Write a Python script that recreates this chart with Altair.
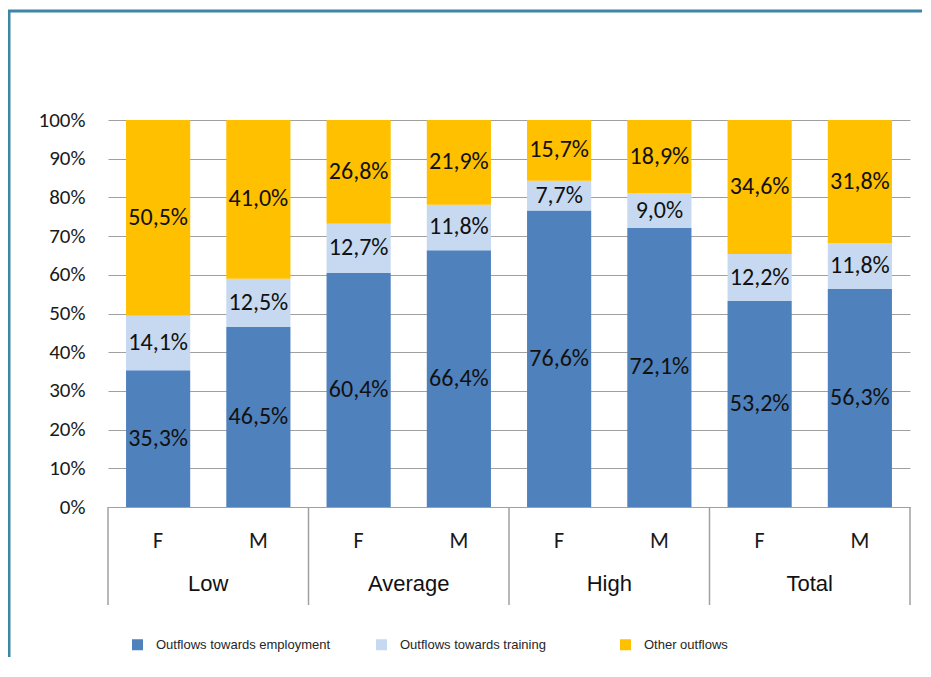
import altair as alt
import pandas as pd

# ---- data ----
groups = ["Low", "Average", "High", "Total"]
sexes = ["F", "M"]
series = ["Outflows towards employment", "Outflows towards training", "Other outflows"]
employment = [35.3, 46.5, 60.4, 66.4, 76.6, 72.1, 53.2, 56.3]
training = [14.1, 12.5, 12.7, 11.8, 7.7, 9.0, 12.2, 11.8]
other = [50.5, 41.0, 26.8, 21.9, 15.7, 18.9, 34.6, 31.8]
y_ticks = [0.0, 0.1, 0.2, 0.3, 0.4, 0.5, 0.6, 0.7, 0.8, 0.9, 1.0]
colors = ["#4F81BD", "#C6D9F1", "#FFC000"]

# ---- tables built from the lists ----
keys = [f"{g}|{s}" for g in groups for s in sexes]
rows = []
for i, k in enumerate(keys):
    vals = [employment[i], training[i], other[i]]
    total = sum(vals)
    cum = 0.0
    for j, v in enumerate(vals):
        cum += v
        rows.append({
            "key": k,
            "series": series[j],
            "sidx": j,
            "value": v,
            "mid": (cum - v / 2) / total,
            "label": f"{v:.1f}".replace(".", ",") + "%",
        })
df = pd.DataFrame(rows)
grp_df = pd.DataFrame({"key": [f"{g}|M" for g in groups], "group": groups})
start_df = pd.DataFrame({"key": [f"{g}|F" for g in groups]})
end_df = pd.DataFrame({"key": [keys[-1]]})
frame_df = pd.DataFrame({"frame": [0]})

W, H = 802, 387
NUM_FONT = "Carlito, Lato, sans-serif"
NARROW = "Liberation Sans Narrow, Arial Narrow, Liberation Sans, sans-serif"
xscale = alt.Scale(domain=keys, paddingInner=0, paddingOuter=0)
yscale = alt.Scale(domain=[0, 1], nice=False)

x_axis = alt.Axis(title=None, labelExpr="split(datum.value, '|')[1]",
                  labelAngle=0, ticks=False, grid=False, domainColor="#a0a0a0",
                  domainWidth=1.2, labelPadding=23, labelFontSize=22,
                  labelFont=NUM_FONT, labelColor="#1a1a1a", labelOverlap=False)
y_axis = alt.Axis(title=None, format=".0%", values=y_ticks, grid=True,
                  gridColor="#a0a0a0", gridWidth=1.2, domain=False, ticks=False,
                  labelPadding=23, labelFontSize=21, labelFont=NUM_FONT,
                  labelColor="#1a1a1a", labelOverlap=False)

bars = alt.Chart(df).mark_bar(width=alt.RelativeBandSize(0.64)).encode(
    x=alt.X("key:N", scale=xscale, sort=keys, axis=x_axis),
    y=alt.Y("value:Q", stack="normalize", scale=yscale, axis=y_axis),
    color=alt.Color("series:N", scale=alt.Scale(domain=series, range=colors),
                    legend=alt.Legend(title=None, orient="none", legendX=23, legendY=518,
                                      direction="horizontal", symbolType="square",
                                      symbolSize=121, symbolStrokeWidth=0,
                                      labelFont=NARROW, labelFontSize=13, labelLimit=400,
                                      labelColor="#262626", labelOffset=12,
                                      columnPadding=44, gridAlign="all")),
    order=alt.Order("sidx:Q"),
)

labels = alt.Chart(df).mark_text(font=NUM_FONT, fontSize=24, color="#111111").encode(
    x=alt.X("key:N", scale=xscale, sort=keys, axis=x_axis),
    y=alt.Y("mid:Q", stack=None, scale=yscale, axis=y_axis),
    text="label:N",
)

group_labels = alt.Chart(grp_df).mark_text(font=NARROW, fontSize=22, color="#111111").encode(
    x=alt.X("key:N", scale=xscale, sort=keys, bandPosition=0, axis=x_axis),
    y=alt.value(H + 77),
    text="group:N",
)

sep_start = alt.Chart(start_df).mark_rule(color="#a0a0a0", strokeWidth=1.5).encode(
    x=alt.X("key:N", scale=xscale, sort=keys, bandPosition=0, axis=x_axis),
    y=alt.value(H), y2=alt.value(H + 98),
)
sep_end = alt.Chart(end_df).mark_rule(color="#a0a0a0", strokeWidth=1.5).encode(
    x=alt.X("key:N", scale=xscale, sort=keys, bandPosition=1, axis=x_axis),
    y=alt.value(H), y2=alt.value(H + 98),
)

frame_top = alt.Chart(frame_df).mark_rule(color="#3D86A5", strokeWidth=3).encode(
    x=alt.value(-100), x2=alt.value(W + 12), y=alt.value(-109),
)
frame_left = alt.Chart(frame_df).mark_rule(color="#3D86A5", strokeWidth=3).encode(
    x=alt.value(-99), y=alt.value(-110), y2=alt.value(H + 150),
)

chart = alt.layer(bars, labels, group_labels, sep_start, sep_end, frame_top, frame_left).properties(
    width=W, height=H,
    autosize=alt.AutoSizeParams(type="none"),
    padding={"left": 100, "top": 112, "right": 12, "bottom": 150},
).configure(
    background="white"
).configure_view(
    stroke=None
)

chart.save("out.html", embed_options={"renderer": "svg", "actions": False})
